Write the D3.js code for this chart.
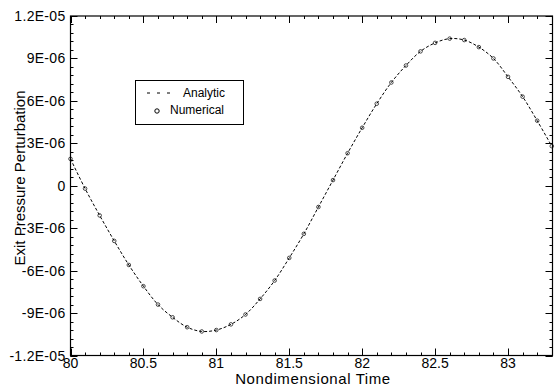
<!DOCTYPE html>
<html>
<head>
<meta charset="utf-8">
<script src="https://cdn.jsdelivr.net/npm/d3@7"></script>
<style>
  body { margin: 0; background: #fff; }
  text { font-family: "Liberation Sans", Arial, sans-serif; fill: #000; }
</style>
</head>
<body>
<div id="chart"></div>
<script>
// nondimensional time samples
const times = [80.0, 80.1, 80.2, 80.3, 80.4, 80.5, 80.6, 80.7, 80.8, 80.9,
  81.0, 81.1, 81.2, 81.3, 81.4, 81.5, 81.6, 81.7, 81.8, 81.9,
  82.0, 82.1, 82.2, 82.3, 82.4, 82.5, 82.6, 82.7, 82.8, 82.9,
  83.0, 83.1, 83.2, 83.3];
// analytic exit pressure perturbation (x 1e-6)
const analytic = [1.9, -0.2, -2.1, -3.9, -5.6, -7.1, -8.4, -9.3, -10.0, -10.3,
  -10.2, -9.8, -9.1, -8.0, -6.7, -5.1, -3.4, -1.5, 0.4, 2.3,
  4.1, 5.8, 7.3, 8.5, 9.5, 10.1, 10.4, 10.3, 9.8, 9.0,
  7.7, 6.3, 4.6, 2.8];
// numerical solution (x 1e-6)
const numerical = [1.9, -0.2, -2.1, -3.9, -5.6, -7.1, -8.4, -9.3, -10.0, -10.3,
  -10.2, -9.8, -9.1, -8.0, -6.7, -5.1, -3.4, -1.5, 0.4, 2.3,
  4.1, 5.8, 7.3, 8.5, 9.5, 10.1, 10.4, 10.3, 9.8, 9.0,
  7.7, 6.3, 4.6, 2.8];

const xTicks = [80, 80.5, 81, 81.5, 82, 82.5, 83];
const yTicks = [-1.2e-5, -9e-6, -6e-6, -3e-6, 0, 3e-6, 6e-6, 9e-6, 1.2e-5];
const yTickLabels = ["-1.2E-05", "-9E-06", "-6E-06", "-3E-06", "0", "3E-06", "6E-06", "9E-06", "1.2E-05"];

const width = 555, height = 386;
const mLeft = 70.5, mRight = 552.5, mTop = 16, mBottom = 355.5;

const svg = d3.select("#chart").append("svg")
  .attr("width", width).attr("height", height);

const x = d3.scaleLinear().domain([80, 83.305]).range([mLeft, mRight]);
const y = d3.scaleLinear().domain([-1.2e-5, 1.2e-5]).range([mBottom, mTop]);

const minorX = d3.range(80, 83.31, 0.1);
const minorY = d3.range(-12, 12.01, 0.6).map(v => v * 1e-6);

// ticks on all four sides, pointing inward
const tickG = svg.append("g").attr("stroke", "#000").attr("stroke-width", 1);
function xt(vals, len) {
  vals.forEach(v => {
    const px = Math.round(x(v)) + 0.5;
    tickG.append("line").attr("x1", px).attr("x2", px).attr("y1", mBottom).attr("y2", mBottom - len);
    tickG.append("line").attr("x1", px).attr("x2", px).attr("y1", mTop).attr("y2", mTop + len);
  });
}
function yt(vals, len) {
  vals.forEach(v => {
    const py = Math.round(y(v)) + 0.5;
    tickG.append("line").attr("x1", mLeft).attr("x2", mLeft + len).attr("y1", py).attr("y2", py);
    tickG.append("line").attr("x1", mRight).attr("x2", mRight - len).attr("y1", py).attr("y2", py);
  });
}
xt(minorX, 3); xt(xTicks, 7);
yt(minorY, 3); yt(yTicks, 7);

svg.append("rect")
  .attr("x", mLeft).attr("y", mTop)
  .attr("width", mRight - mLeft).attr("height", mBottom - mTop)
  .attr("fill", "none").attr("stroke", "#000").attr("stroke-width", 1.2);

// tick labels
svg.append("g").selectAll("text").data(xTicks).enter().append("text")
  .attr("x", d => x(d)).attr("y", 368)
  .attr("text-anchor", "middle").attr("font-size", 14)
  .text(d => d);

svg.append("g").selectAll("text").data(yTicks).enter().append("text")
  .attr("x", mLeft - 5).attr("y", d => y(d) + 5)
  .attr("text-anchor", "end").attr("font-size", 14)
  .attr("letter-spacing", 0.3)
  .text((d, i) => yTickLabels[i]);

svg.append("text")
  .attr("x", 313).attr("y", 384)
  .attr("text-anchor", "middle").attr("font-size", 15)
  .attr("letter-spacing", 0.6)
  .text("Nondimensional Time");

svg.append("text")
  .attr("transform", "translate(25, 178) rotate(-90)")
  .attr("text-anchor", "middle").attr("font-size", 15)
  .text("Exit Pressure Perturbation");

// curves
const pts = times.map((t, i) => [t, analytic[i] * 1e-6]);
const line = d3.line().x(d => x(d[0])).y(d => y(d[1])).curve(d3.curveCatmullRom);

svg.append("path").datum(pts)
  .attr("d", line)
  .attr("fill", "none").attr("stroke", "#000")
  .attr("stroke-width", 1).attr("stroke-dasharray", "3,2");

svg.append("g").selectAll("circle").data(times).enter().append("circle")
  .attr("cx", d => x(d)).attr("cy", (d, i) => y(numerical[i] * 1e-6))
  .attr("r", 1.8).attr("fill", "none").attr("stroke", "#000").attr("stroke-width", 0.7);

// legend
const lg = svg.append("g");
lg.append("rect").attr("x", 135.5).attr("y", 80.5).attr("width", 108).attr("height", 44)
  .attr("fill", "#fff").attr("stroke", "#000").attr("stroke-width", 1);
lg.append("line").attr("x1", 147).attr("x2", 173).attr("y1", 93).attr("y2", 93)
  .attr("stroke", "#000").attr("stroke-dasharray", "3,7");
lg.append("text").attr("x", 183).attr("y", 97).attr("font-size", 12).text("Analytic");
lg.append("circle").attr("cx", 157).attr("cy", 111).attr("r", 2.2)
  .attr("fill", "none").attr("stroke", "#000");
lg.append("text").attr("x", 170).attr("y", 114).attr("font-size", 12).text("Numerical");
</script>
</body>
</html>
